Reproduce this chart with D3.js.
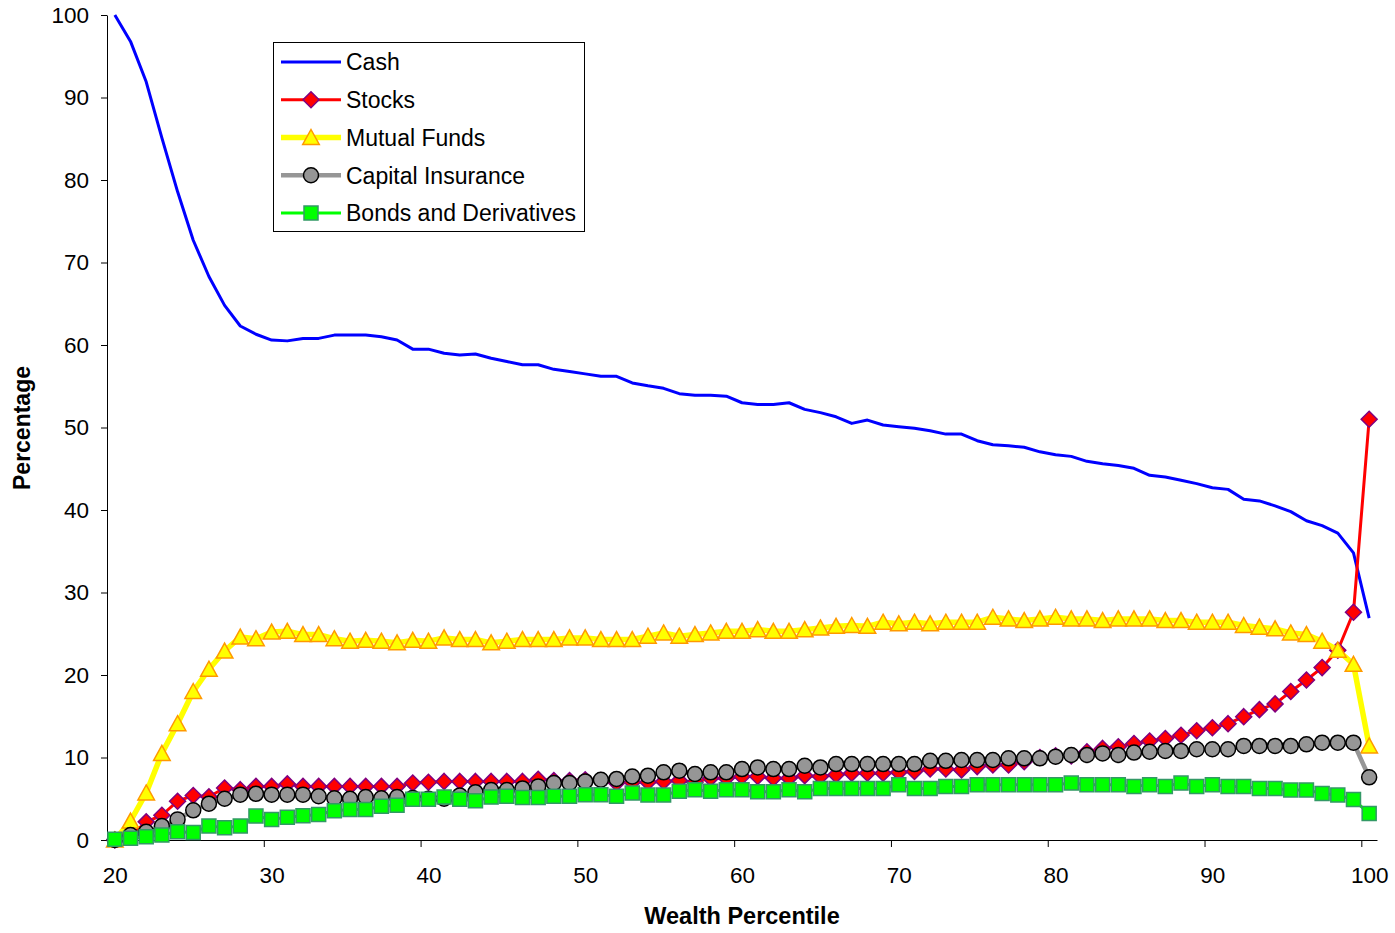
<!DOCTYPE html>
<html>
<head>
<meta charset="utf-8">
<script src="https://cdn.jsdelivr.net/npm/d3@7"></script>
<style>
  html, body { margin: 0; padding: 0; background: #fff; }
  svg { display: block; font-family: "Liberation Sans", Arial, sans-serif; }
</style>
</head>
<body>
<svg id="chart" width="1395" height="933"></svg>
<script>
const percentiles = [20,21,22,23,24,25,26,27,28,29,30,31,32,33,34,35,36,37,38,39,40,41,42,43,44,45,46,47,48,49,50,
  51,52,53,54,55,56,57,58,59,60,61,62,63,64,65,66,67,68,69,70,71,72,73,74,75,76,77,78,79,80,
  81,82,83,84,85,86,87,88,89,90,91,92,93,94,95,96,97,98,99,100];

const cash = [100, 96.8, 91.9, 85.1, 78.6, 72.7, 68.3, 64.8, 62.3, 61.3, 60.6,
  60.5, 60.8, 60.8, 61.2, 61.2, 61.2, 61.0, 60.6, 59.5, 59.5,
  59.0, 58.8, 58.9, 58.4, 58.0, 57.6, 57.6, 57.05, 56.8, 56.5,
  56.2, 56.2, 55.4, 55.05, 54.75, 54.1, 53.9, 53.9, 53.8, 53.0,
  52.8, 52.8, 53.0, 52.2, 51.8, 51.3, 50.5, 50.9, 50.3, 50.1,
  49.9, 49.6, 49.2, 49.2, 48.4, 47.9, 47.8, 47.6, 47.05, 46.7,
  46.5, 45.9, 45.6, 45.4, 45.05, 44.2, 44.0, 43.6, 43.2, 42.7,
  42.5, 41.3, 41.1, 40.5, 39.8, 38.7, 38.1, 37.2, 34.8, 26.9];

const stocks = [0, 0.5, 2.2, 3.0, 4.7, 5.4, 5.25, 6.3, 6.1, 6.5, 6.5,
  6.8, 6.5, 6.5, 6.5, 6.5, 6.5, 6.5, 6.5, 6.9, 7.0,
  7.1, 7.1, 7.1, 7.1, 7.1, 7.1, 7.35, 7.2, 7.2, 7.3,
  7.2, 6.9, 7.0, 7.0, 7.1, 7.2, 7.0, 7.5, 7.5, 7.7,
  7.7, 7.5, 7.5, 7.8, 7.7, 7.9, 8.1, 8.1, 8.1, 8.2,
  8.3, 8.6, 8.6, 8.5, 8.9, 9.1, 9.1, 9.5, 10.0, 10.2,
  10.2, 10.7, 11.1, 11.3, 11.7, 12.0, 12.3, 12.7, 13.25, 13.6,
  14.1, 14.95, 15.8, 16.5, 18.0, 19.4, 20.9, 23.0, 27.6, 51.0];

const mutualFunds = [0, 2.3, 5.7, 10.5, 14.1, 18.0, 20.7, 22.9, 24.6, 24.4, 25.2,
  25.3, 24.9, 24.9, 24.4, 24.1, 24.2, 24.1, 23.9, 24.2, 24.1,
  24.5, 24.3, 24.3, 23.9, 24.1, 24.3, 24.3, 24.3, 24.5, 24.5,
  24.3, 24.3, 24.3, 24.7, 25.1, 24.7, 24.9, 25.1, 25.3, 25.3,
  25.5, 25.3, 25.3, 25.5, 25.7, 25.9, 26.0, 25.9, 26.4, 26.2,
  26.4, 26.2, 26.4, 26.4, 26.4, 27.0, 26.8, 26.6, 26.8, 27.0,
  26.8, 26.8, 26.6, 26.8, 26.8, 26.8, 26.6, 26.6, 26.4, 26.4,
  26.4, 26.0, 25.8, 25.6, 25.1, 24.9, 24.1, 23.0, 21.3, 11.4];

const capitalInsurance = [0, 0.6, 1.0, 1.7, 2.5, 3.6, 4.4, 5.0, 5.5, 5.6, 5.5,
  5.5, 5.5, 5.3, 5.05, 5.0, 5.2, 5.05, 5.2, 5.1, 5.0,
  5.0, 5.4, 5.8, 6.06, 6.06, 6.25, 6.5, 6.9, 6.9, 7.1,
  7.3, 7.4, 7.7, 7.8, 8.2, 8.4, 8.0, 8.2, 8.2, 8.6,
  8.8, 8.6, 8.6, 9.0, 8.8, 9.2, 9.2, 9.2, 9.2, 9.2,
  9.2, 9.6, 9.6, 9.7, 9.7, 9.7, 9.9, 9.9, 9.9, 10.1,
  10.3, 10.3, 10.5, 10.3, 10.6, 10.7, 10.8, 10.8, 11.0, 11.0,
  11.0, 11.4, 11.4, 11.4, 11.4, 11.6, 11.8, 11.8, 11.8, 7.6];

const bonds = [0.1, 0.2, 0.4, 0.6, 1.0, 0.9, 1.7, 1.5, 1.7, 2.9, 2.5,
  2.75, 2.95, 3.1, 3.55, 3.7, 3.7, 4.1, 4.2, 4.95, 4.95,
  5.2, 4.95, 4.75, 5.2, 5.3, 5.15, 5.15, 5.3, 5.3, 5.5,
  5.5, 5.3, 5.7, 5.45, 5.45, 5.9, 6.1, 5.9, 6.1, 6.1,
  5.85, 5.85, 6.1, 5.85, 6.25, 6.25, 6.25, 6.25, 6.25, 6.7,
  6.25, 6.25, 6.5, 6.5, 6.7, 6.7, 6.7, 6.7, 6.7, 6.7,
  6.9, 6.7, 6.7, 6.7, 6.5, 6.7, 6.5, 6.9, 6.5, 6.7,
  6.5, 6.5, 6.25, 6.25, 6.06, 6.06, 5.65, 5.45, 4.9, 3.2];

const seriesNames = ["Cash", "Stocks", "Mutual Funds", "Capital Insurance", "Bonds and Derivatives"];
const xTickLabels = [20, 30, 40, 50, 60, 70, 80, 90, 100];
const yTickValues = [0, 10, 20, 30, 40, 50, 60, 70, 80, 90, 100];

// ---- styling ----
const styles = [
  { line: "#0000FF", width: 3,   marker: null },
  { line: "#FF0000", width: 3,   marker: "diamond",  fill: "#FF0000", stroke: "#800080" },
  { line: "#FFFF00", width: 5.5, marker: "triangle", fill: "#FFFF00", stroke: "#FF9900" },
  { line: "#969696", width: 4.5, marker: "circle",   fill: "#969696", stroke: "#000000" },
  { line: "#00FF00", width: 3,   marker: "square",   fill: "#00FF00", stroke: "#339966" }
];
const seriesData = [cash, stocks, mutualFunds, capitalInsurance, bonds];

const svg = d3.select("#chart");
const x = d3.scaleLinear().domain([19.5, 100.5]).range([107, 1377]);
const y = d3.scaleLinear().domain([0, 100]).range([840, 15]);

function markerPath(type) {
  if (type === "diamond") return "M0,-8 L8,0 L0,8 L-8,0 Z";
  if (type === "triangle") return "M0,-8 L8.3,7 L-8.3,7 Z";
  if (type === "square") return "M-7,-7 L7,-7 L7,7 L-7,7 Z";
  return null;
}
function drawMarker(g, type, st, cx, cy) {
  if (type === "circle") {
    g.append("circle").attr("cx", cx).attr("cy", cy).attr("r", 7.5)
      .attr("fill", st.fill).attr("stroke", st.stroke).attr("stroke-width", 1.5);
  } else {
    g.append("path").attr("d", markerPath(type))
      .attr("transform", `translate(${cx},${cy})`)
      .attr("fill", st.fill).attr("stroke", st.stroke).attr("stroke-width", 1.5)
      .attr("stroke-linejoin", "miter");
  }
}

// ---- axes ----
const yAxis = d3.axisLeft(y).tickValues(yTickValues).tickSize(6).tickSizeOuter(0).tickPadding(12);
const yg = svg.append("g").attr("transform", "translate(107,0)").call(yAxis);
yg.selectAll("text").attr("font-size", 22.5).attr("fill", "#000").attr("font-family", "Liberation Sans, Arial, sans-serif");
yg.selectAll("line, path").attr("stroke", "#000");

const xTickPos = xTickLabels.map(v => v - 0.5);
const xAxisTicks = d3.axisBottom(x).tickValues(xTickPos).tickSize(7).tickSizeOuter(0).tickFormat("");
const xg = svg.append("g").attr("transform", "translate(0,840)").call(xAxisTicks);
xg.selectAll("line, path").attr("stroke", "#000");

const xAxisLabels = d3.axisBottom(x).tickValues(xTickLabels).tickSize(0).tickPadding(27);
const xl = svg.append("g").attr("transform", "translate(0,840)").call(xAxisLabels);
xl.select(".domain").remove();
xl.selectAll("text").attr("font-size", 22.5).attr("fill", "#000").attr("font-family", "Liberation Sans, Arial, sans-serif");

// axis titles
svg.append("text").attr("x", 742).attr("y", 924).attr("text-anchor", "middle")
  .attr("font-size", 23.5).attr("font-weight", "bold").text("Wealth Percentile");
svg.append("text").attr("transform", "translate(30,428) rotate(-90)").attr("text-anchor", "middle")
  .attr("font-size", 23).attr("font-weight", "bold").text("Percentage");

// ---- series ----
const plot = svg.append("g");
seriesData.forEach((vals, si) => {
  const st = styles[si];
  const pts = percentiles.map((p, i) => [p, vals[i]]);
  const line = d3.line().x(d => x(d[0])).y(d => y(d[1]));
  const g = plot.append("g");
  g.append("path").attr("d", line(pts)).attr("fill", "none")
    .attr("stroke", st.line).attr("stroke-width", st.width).attr("stroke-linejoin", "round");
  if (st.marker) {
    pts.forEach(d => drawMarker(g, st.marker, st, x(d[0]), y(d[1])));
  }
});

// ---- legend ----
const lg = svg.append("g");
lg.append("rect").attr("x", 273.5).attr("y", 42.5).attr("width", 311).attr("height", 189)
  .attr("fill", "#fff").attr("stroke", "#000").attr("stroke-width", 1);
const legendY = d3.scaleLinear().domain([0, 4]).range([62, 213]);
seriesNames.forEach((name, i) => {
  const st = styles[i];
  const cy = legendY(i);
  lg.append("line").attr("x1", 281).attr("x2", 341).attr("y1", cy).attr("y2", cy)
    .attr("stroke", st.line).attr("stroke-width", st.width);
  if (st.marker) drawMarker(lg, st.marker, st, 311, cy);
  lg.append("text").attr("x", 346).attr("y", cy).attr("dy", "0.36em")
    .attr("font-size", 23).attr("fill", "#000").text(name);
});
</script>
</body>
</html>
